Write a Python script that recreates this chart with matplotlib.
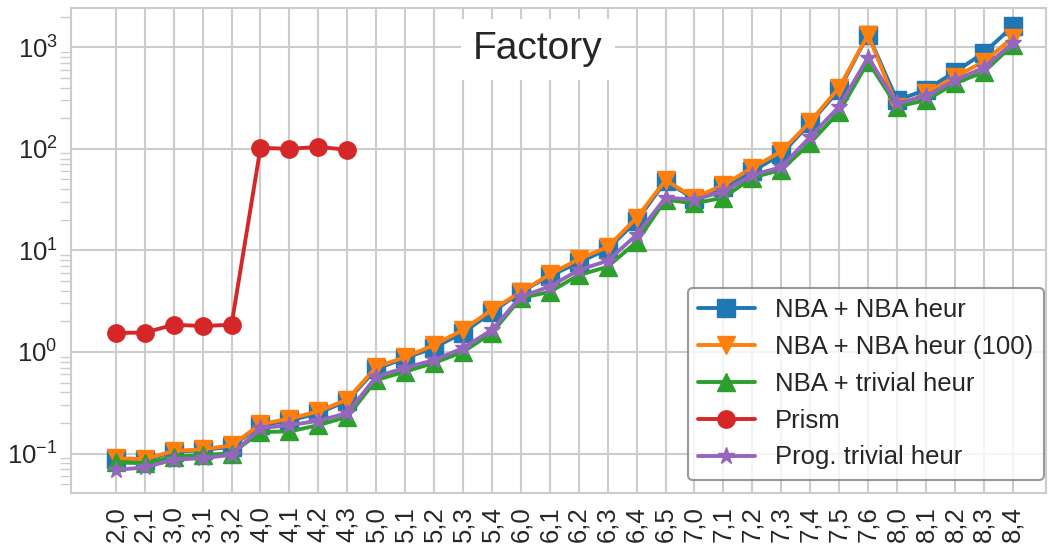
import matplotlib
matplotlib.use("Agg")
import matplotlib.pyplot as plt
import seaborn as sns

categories = ["2,0", "2,1", "3,0", "3,1", "3,2", "4,0", "4,1", "4,2", "4,3",
              "5,0", "5,1", "5,2", "5,3", "5,4", "6,0", "6,1", "6,2", "6,3",
              "6,4", "6,5", "7,0", "7,1", "7,2", "7,3", "7,4", "7,5", "7,6",
              "8,0", "8,1", "8,2", "8,3", "8,4"]

nba_nba = [0.088, 0.086, 0.104, 0.108, 0.117, 0.19, 0.21, 0.25, 0.33,
           0.68, 0.87, 1.10, 1.55, 2.45, 3.9, 5.6, 7.6, 10.3,
           19.5, 48, 32, 42, 60, 88, 180, 380, 1330,
           300, 380, 570, 880, 1600]
nba_nba_100 = [0.090, 0.088, 0.106, 0.110, 0.120, 0.195, 0.22, 0.26, 0.34,
               0.71, 0.89, 1.17, 1.65, 2.6, 3.9, 5.8, 8.2, 10.8,
               20.9, 49, 33, 44, 65, 94, 185, 400, 1330,
               260, 350, 510, 720, 1240]
nba_trivial = [0.082, 0.080, 0.093, 0.097, 0.100, 0.163, 0.165, 0.19, 0.23,
               0.53, 0.64, 0.78, 1.0, 1.54, 3.4, 3.9, 5.7, 6.9,
               12.1, 31.5, 29, 33, 52, 62, 114, 230, 720,
               260, 300, 440, 570, 1050]
prism = [1.54, 1.55, 1.85, 1.80, 1.85, 102, 100, 104, 98]
prog_trivial = [0.069, 0.073, 0.087, 0.090, 0.097, 0.178, 0.19, 0.21, 0.25,
                0.57, 0.70, 0.83, 1.09, 1.65, 3.5, 4.4, 6.4, 7.9,
                14.2, 33, 31.5, 38, 55, 66, 131, 260, 790,
                280, 330, 470, 630, 1100]

sns.set_theme(style="whitegrid")
plt.rcParams["font.family"] = ["Liberation Sans", "DejaVu Sans"]

fig = plt.figure(figsize=(10.51, 5.44), dpi=100)
ax = fig.add_axes([0.0675, 0.094, 0.9275, 0.891])

x = list(range(len(categories)))
lw = 2.8
ms = 12.5
ax.plot(x, nba_nba, marker="s", color="#1f77b4", lw=lw, ms=ms, label="NBA + NBA heur")
ax.plot(x, nba_nba_100, marker="v", color="#ff7f0e", lw=lw, ms=ms, label="NBA + NBA heur (100)")
ax.plot(x, nba_trivial, marker="^", color="#2ca02c", lw=lw, ms=ms, label="NBA + trivial heur")
ax.plot(x[:len(prism)], prism, marker="o", color="#d62728", lw=lw, ms=ms, label="Prism")
ax.plot(x, prog_trivial, marker="*", color="#9467bd", lw=lw, ms=ms, label="Prog. trivial heur")

ax.set_yscale("log")
ax.set_ylim(0.041, 2420)
ax.set_xlim(-1.55, 32.14)
ax.set_xticks(x)
ax.set_xticklabels(categories, rotation=90, fontsize=18.5)
ax.tick_params(axis="y", labelsize=18.5)
ax.tick_params(axis="y", which="minor", left=True, length=8, width=1, color="#cccccc")
ax.grid(True, which="major", color="#cccccc", lw=1.5)
for s in ax.spines.values():
    s.set_color("#cccccc")
    s.set_linewidth(1.5)

ax.text(0.479, 0.915, "Factory", transform=ax.transAxes, ha="center", va="center",
        fontsize=28, color="#262626",
        bbox=dict(facecolor="white", edgecolor="none", pad=9))

leg = ax.legend(loc="lower right", bbox_to_anchor=(0.998, 0.027), fontsize=18.5,
                frameon=True, borderaxespad=0, handlelength=2.2,
                labelspacing=0.5, borderpad=0.4)
leg.get_frame().set_edgecolor("#808080")
leg.get_frame().set_linewidth(1.5)

fig.savefig("out.png", dpi=100)
